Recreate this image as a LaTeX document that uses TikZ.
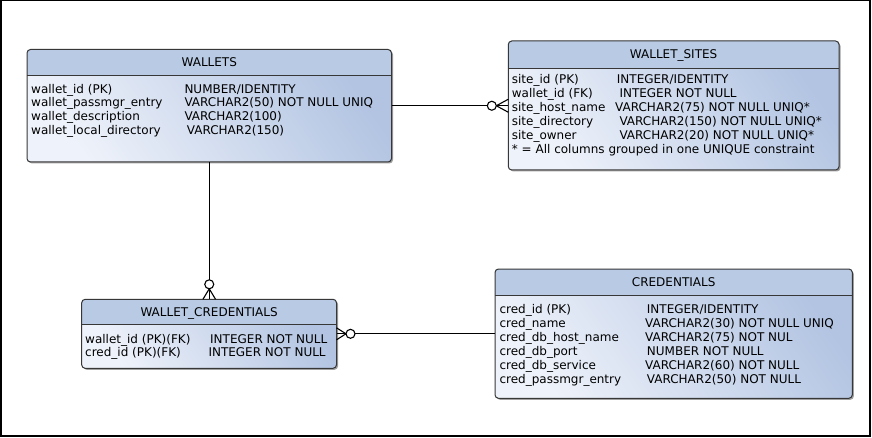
\documentclass[tikz,border=0pt]{standalone}
\usepackage{fontspec}
\setmainfont{DejaVu Sans}
\usetikzlibrary{calc}
\definecolor{hdr}{RGB}{184,202,228}
\definecolor{bodyL}{RGB}{238,242,250}
\definecolor{bodyR}{RGB}{178,196,226}
\definecolor{edgec}{RGB}{55,55,55}
\definecolor{shad}{RGB}{160,160,160}
\newcommand\erbox[6]{%
  \fill[shad, rounded corners=3.5] (#2+1.5,#3+1.5) rectangle (#4+1.5,#5+1.5);
  \node[tbl, minimum width={#4-#2}, minimum height={#5-#3}] (#1) at ({(#2+#4)/2},{(#3+#5)/2}) {};
  \begin{scope}
    \clip (#2,#3) rectangle (#4,#6);
    \fill[hdr, rounded corners=3.5] (#2,#3) rectangle (#4,#5);
  \end{scope}
  \draw[edgec, line width=0.9pt] (#2,#6) -- (#4,#6);
  \draw[edgec, line width=1pt, rounded corners=3.5] (#1.north west) rectangle (#1.south east);
}
\begin{document}
\begin{tikzpicture}[x=1pt,y=-1pt,
  tbl/.style={rectangle, rounded corners=3.5, inner sep=0pt, outer sep=0pt, top color=bodyL, bottom color=bodyR, shading angle=125, draw=none},
  txt/.style={anchor=base west, inner sep=0pt, font=\fontsize{12}{14}\selectfont},
  ttl/.style={anchor=base, inner sep=0pt, font=\fontsize{12}{14}\selectfont},
  conn/.style={draw=black, line width=1.1pt},
  ]
\useasboundingbox (0,0) rectangle (872,438);
\fill[white] (0,0) rectangle (872,438);
\draw[line width=1.5pt] (0.75,0.75) rectangle (870,435.8);

% WALLETS
\erbox{wallets}{27}{49.5}{391.5}{162}{75}
\node[ttl] (wt) at (209.25,66.7) {WALLETS};
\node[txt] (w1a) at (31,93.3) {wallet\_id (PK)};
\node[txt] (w1b) at (184.3,93.3) {NUMBER/IDENTITY};
\node[txt] (w2a) at (31,107) {wallet\_passmgr\_entry};
\node[txt] (w2b) at (184.3,107) {VARCHAR2(50) NOT NULL UNIQ};
\node[txt] (w3a) at (31,120.7) {wallet\_description};
\node[txt] (w3b) at (184.3,120.7) {VARCHAR2(100)};
\node[txt] (w4a) at (31,134.3) {wallet\_local\_directory};
\node[txt] (w4b) at (186.7,134.3) {VARCHAR2(150)};

% WALLET_SITES
\erbox{sites}{508.3}{41}{839}{170}{68.3}
\node[ttl] (st) at (673.6,59) {WALLET\_SITES};
\node[txt] (s1a) at (511.7,84) {site\_id (PK)};
\node[txt] (s1b) at (616.7,84) {INTEGER/IDENTITY};
\node[txt] (s2a) at (511.7,98) {wallet\_id (FK)};
\node[txt] (s2b) at (619.3,98) {INTEGER NOT NULL};
\node[txt] (s3a) at (511.7,112) {site\_host\_name};
\node[txt] (s3b) at (615,112) {VARCHAR2(75) NOT NULL UNIQ*};
\node[txt] (s4a) at (511.7,126) {site\_directory};
\node[txt] (s4b) at (619.3,126) {VARCHAR2(150) NOT NULL UNIQ*};
\node[txt] (s5a) at (511.7,140) {site\_owner};
\node[txt] (s5b) at (619.3,140) {VARCHAR2(20) NOT NULL UNIQ*};
\node[txt] (s6) at (511.7,154) {* = All columns grouped in one UNIQUE constraint};

% WALLET_CREDENTIALS
\erbox{wc}{81.7}{299.3}{336.5}{368.3}{324.3}
\node[ttl] (wct) at (209.1,316.7) {WALLET\_CREDENTIALS};
\node[txt] (c1a) at (85,343.3) {wallet\_id (PK)(FK)};
\node[txt] (c1b) at (210,343.3) {INTEGER NOT NULL};
\node[txt] (c2a) at (85,356.8) {cred\_id (PK)(FK)};
\node[txt] (c2b) at (208.3,356.8) {INTEGER NOT NULL};

% CREDENTIALS
\erbox{cred}{495}{269}{852.3}{398.3}{295}
\node[ttl] (ct) at (673.65,286.7) {CREDENTIALS};
\node[txt] (r1a) at (499.3,313.3) {cred\_id (PK)};
\node[txt] (r1b) at (646.7,313.3) {INTEGER/IDENTITY};
\node[txt] (r2a) at (499.3,327.3) {cred\_name};
\node[txt] (r2b) at (645,327.3) {VARCHAR2(30) NOT NULL UNIQ};
\node[txt] (r3a) at (499.3,341) {cred\_db\_host\_name};
\node[txt] (r3b) at (645,341) {VARCHAR2(75) NOT NUL};
\node[txt] (r4a) at (499.3,355) {cred\_db\_port};
\node[txt] (r4b) at (646.7,355) {NUMBER NOT NULL};
\node[txt] (r5a) at (499.3,369) {cred\_db\_service};
\node[txt] (r5b) at (645,369) {VARCHAR2(60) NOT NULL};
\node[txt] (r6a) at (499.3,383) {cred\_passmgr\_entry};
\node[txt] (r6b) at (646.7,383) {VARCHAR2(50) NOT NULL};

% connector WALLETS - WALLET_SITES
\coordinate (e1) at (wallets.east -| sites.west);
\draw[conn] (wallets.east) -- (e1);
\draw[conn] ($(e1)+(0,-6.5)$) -- ($(e1)+(-12,0)$) -- ($(e1)+(0,6.5)$);
\draw[conn, fill=white] ($(e1)+(-16.5,0)$) circle (4.5);

% connector WALLETS - WALLET_CREDENTIALS
\coordinate (e2) at (wallets.south |- wc.north);
\draw[conn] (wallets.south) -- (e2);
\draw[conn] ($(e2)+(-6.3,0)$) -- ($(e2)+(0,-10.5)$) -- ($(e2)+(6.3,0)$);
\draw[conn, fill=white] ($(e2)+(0,-15)$) circle (4.5);

% connector WALLET_CREDENTIALS - CREDENTIALS
\coordinate (e3) at (wc.east);
\draw[conn] (e3) -- (e3 -| cred.west);
\draw[conn] ($(e3)+(0,-6)$) -- ($(e3)+(9.5,0)$) -- ($(e3)+(0,6)$);
\draw[conn, fill=white] ($(e3)+(14,0)$) circle (4.5);
\end{tikzpicture}
\end{document}
